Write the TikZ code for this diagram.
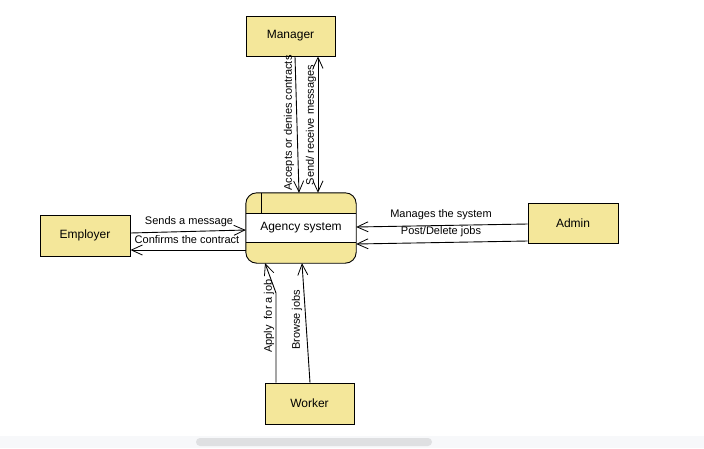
\documentclass[tikz,border=0pt]{standalone}
\usepackage{fontspec}
\setmainfont{Liberation Sans}
\usetikzlibrary{arrows.meta}
\definecolor{boxfill}{HTML}{F4E79A}
\definecolor{bandgray}{HTML}{F7F8FA}
\definecolor{scrollgray}{HTML}{DFE0E2}
\tikzset{
  entity/.style={draw=black, line width=0.9pt, fill=boxfill, minimum width=89pt, minimum height=40pt, inner sep=0pt, font=\fontsize{12}{14}\selectfont},
  flow/.style={draw=black, line width=0.9pt, -{Straight Barb[length=11pt,width=10pt,line width=0.8pt]}},
  bflow/.style={draw=black, line width=0.9pt, {Straight Barb[length=11pt,width=10pt,line width=0.8pt]}-{Straight Barb[length=11pt,width=10pt,line width=0.8pt]}},
  lbl/.style={font=\fontsize{11}{13}\selectfont, inner sep=0pt},
  vlbl/.style={lbl, rotate=90}
}
\begin{document}
\begin{tikzpicture}[x=1pt,y=1pt]
\useasboundingbox (0,0) rectangle (704,-448);
% bottom band (screenshot)
\fill[bandgray] (0,-436) rectangle (704,-448);
\fill[scrollgray, rounded corners=4pt] (196,-438) rectangle (432,-446);

% entities
\node[entity] (manager) at (290.5,-36) {Manager};
\node[entity, minimum width=90pt, minimum height=41pt] (employer) at (85,-235.5) {Employer};
\node[entity, minimum width=90pt] (admin) at (573,-223) {Admin};
\node[entity, minimum height=41pt] (worker) at (309.5,-403.5) {Worker};

% process
\node[minimum width=110pt, minimum height=70pt, inner sep=0pt] (agency) at (301,-228) {};
\fill[boxfill, rounded corners=11pt] (agency.north west) rectangle (agency.south east);
\fill[white] (246,-213.3) rectangle (356,-242.7);
\draw[line width=0.9pt, rounded corners=11pt] (agency.north west) rectangle (agency.south east);
\draw[line width=0.9pt] (246,-213.3) -- (356,-213.3);
\draw[line width=0.9pt] (246,-242.7) -- (356,-242.7);
\draw[line width=0.9pt] (261.7,-193) -- (261.7,-213.3);
\node[font=\fontsize{12}{14}\selectfont] at (301,-228) {Agency system};

% flows
\draw[flow] ([xshift=4.5pt]manager.south) -- ([xshift=-2pt]agency.north);
\draw[bflow] ([xshift=27.5pt]manager.south) -- ([xshift=17pt]agency.north);
\draw[flow] ([yshift=2.5pt]employer.east) -- ([yshift=-2pt]agency.west);
\draw[flow] ([yshift=-22pt]agency.west) -- ([yshift=-14.5pt]employer.east);
\draw[flow] ([yshift=-1pt]admin.west) -- ([yshift=1pt]agency.east);
\draw[flow] ([yshift=-18pt]admin.west) -- ([yshift=-16pt]agency.east);
\coordinate (applybend) at (276,-293);
\draw[flow] ([xshift=-33.5pt]worker.north) -- (applybend) -- ([xshift=-36pt]agency.south);
\draw[flow] ([xshift=0.5pt]worker.north) -- ([xshift=1pt]agency.south);

% labels
\node[vlbl] at (289,-123) {Accepts or denies contracts};
\node[vlbl] at (311,-125) {Send/ receive messages};
\node[lbl] at (189,-222) {Sends a message};
\node[lbl] at (187,-240) {Confirms the contract};
\node[lbl] at (441,-215) {Manages the system};
\node[lbl] at (441,-232) {Post/Delete jobs};
\node[vlbl] at (269,-316) {Apply\ \ for a job};
\node[vlbl] at (297,-320) {Browse jobs};
\end{tikzpicture}
\end{document}
